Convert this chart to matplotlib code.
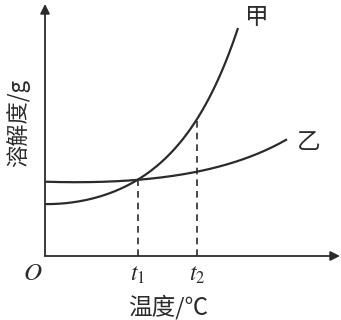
import matplotlib
matplotlib.use("Agg")
import matplotlib.pyplot as plt
import numpy as np

plt.rcParams['font.family'] = ['Noto Sans CJK SC', 'DejaVu Sans']
plt.rcParams['mathtext.fontset'] = 'stix'

# curve points (x: temperature, y: solubility, arbitrary units)
jia_x = [0, 20, 45, 60, 75, 93, 108, 122, 135, 145, 152, 160, 168, 176, 182, 188, 193]
jia_y = [52, 53, 56, 61, 68, 76, 87, 99, 114, 128, 138, 150, 163, 180, 196, 214, 232]
yi_x = [0, 30, 60, 93, 125, 152, 170, 185, 200, 212, 228, 242]
yi_y = [74, 74, 75, 76, 79, 84, 88, 93, 98, 103, 109, 116]
t1, t2 = 93, 152
t_labels = ["$t_1$", "$t_2$"]

INK = "#2b2b2b"


def smooth(xs, ys, deg):
    # least-squares fit (in log space) through the read points, only to draw a smooth line
    c = np.polyfit(xs, np.log(ys), deg)
    xx = np.linspace(xs[0], xs[-1], 200)
    return xx, np.exp(np.polyval(c, xx))


fig = plt.figure(figsize=(3.41, 3.20), dpi=100)
ax = fig.add_axes([45/341, 64/320, 296/341, 256/320])
ax.set_xlim(0, 296); ax.set_ylim(0, 256)
ax.axis("off")

# axes with arrows
ax.annotate("", xy=(0, 252), xytext=(0, 0),
            arrowprops=dict(arrowstyle="-|>", color=INK, lw=1.3, mutation_scale=14,
                            shrinkA=0, shrinkB=0))
ax.annotate("", xy=(295, 0), xytext=(0, 0),
            arrowprops=dict(arrowstyle="-|>", color=INK, lw=1.3, mutation_scale=14,
                            shrinkA=0, shrinkB=0))

ax.plot(*smooth(jia_x, jia_y, 3), color=INK, lw=1.6, solid_capstyle="butt")
ax.plot(*smooth(yi_x, yi_y, 3), color=INK, lw=1.6, solid_capstyle="butt")

# dashed guides down to the x axis
ax.plot([t1, t1], [0, 76], color=INK, lw=1.2, ls=(0, (4, 3)))
ax.plot([t2, t2], [0, 138], color=INK, lw=1.2, ls=(0, (4, 3)))

ax.text(212, 238, "甲", fontsize=17, color=INK, ha="center", va="center")
ax.text(264, 113, "乙", fontsize=17, color=INK, ha="center", va="center")

for t, lab in zip([t1, t2], t_labels):
    ax.text(t, -19, lab, fontsize=17, color=INK, ha="center", va="center")
ax.text(-12, -17, "$O$", fontsize=18, color=INK, ha="center", va="center")

ax.text(123, -51, "温度/℃", fontsize=17, color=INK, ha="center", va="center",
        clip_on=False)
ax.text(-27, 133, "溶解度/g", fontsize=16, color=INK, ha="center", va="center",
        rotation=90, clip_on=False)

fig.savefig("out.png", dpi=100, facecolor="white")
